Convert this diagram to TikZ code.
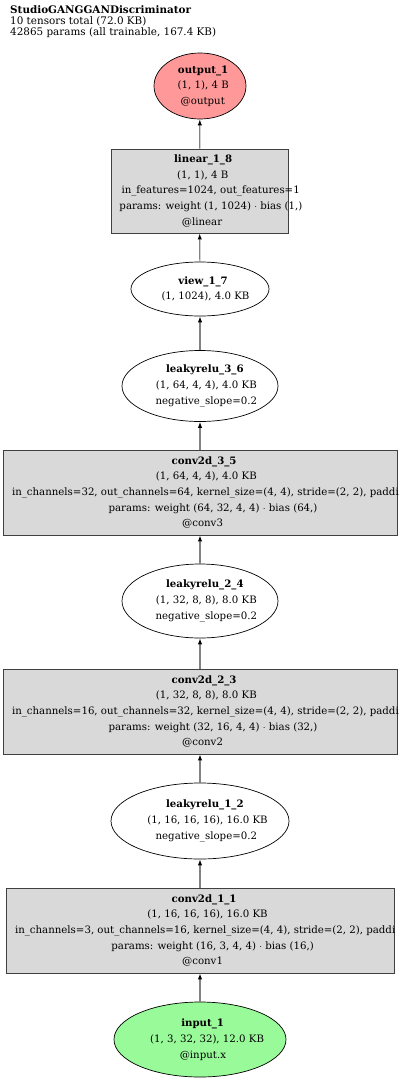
\documentclass[tikz,border=0pt]{standalone}
\usepackage{fontspec}
\setmainfont{DejaVu Serif}
\usetikzlibrary{shapes.geometric, arrows.meta, positioning}
\definecolor{outfill}{RGB}{255,153,153}
\definecolor{infill}{RGB}{153,250,153}
\definecolor{layerfill}{RGB}{217,217,217}
\definecolor{edgegray}{RGB}{130,130,130}

\tikzset{
  layerbox/.style={draw=black!75, fill=layerfill, inner sep=0pt, align=center, line width=0.8pt},
  opnode/.style={ellipse, draw=black, inner sep=0pt, align=center, line width=0.7pt},
  flow/.style={draw=edgegray, line width=1.2pt, -{Latex[length=6pt,width=4.5pt,black]}}
}
% each label line starts a little left of its centre, as the renderer did
\newlength{\gvw}
\newcommand{\gv}[1]{\settowidth{\gvw}{#1}\makebox[0pt][l]{\hspace*{-0.4375\gvw}#1}}
\newcommand{\longline}[2]{\makebox[0pt][l]{\hspace*{#1}#2}}

\begin{document}
\begin{tikzpicture}[x=1pt, y=-1pt, font=\fontsize{10.2}{15.7}\selectfont]
  \useasboundingbox (0,0) rectangle (400,1082);
  \clip (0,0) rectangle (400,1082);

  % heading
  \node[anchor=north west, align=left, inner sep=0pt, font=\fontsize{10.4}{11.4}\selectfont] (title) at (10,5)
    {\textbf{StudioGANGGANDiscriminator}\\10 tensors total (72.0 KB)\\42865 params (all trainable, 167.4 KB)};

  % nodes, top to bottom
  \node[opnode, fill=outfill, minimum width=92pt, minimum height=66pt] (out1) at (200,86)
    {\gv{\textbf{output\_1}}\\\gv{(1, 1), 4 B}\\\gv{@output}};
  \node[layerbox, minimum width=177pt, minimum height=84pt] (lin8) at (199.5,191)
    {\gv{\textbf{linear\_1\_8}}\\\gv{(1, 1), 4 B}\\\gv{in\_features=1024, out\_features=1}\\
     \gv{params: weight (1, 1024) $\cdot$ bias (1,)}\\\gv{@linear}};
  \node[opnode, minimum width=138pt, minimum height=54pt] (view7) at (200,289)
    {\gv{\textbf{view\_1\_7}}\\\gv{(1, 1024), 4.0 KB}};
  \node[opnode, minimum width=156pt, minimum height=71pt] (lrelu36) at (200,386)
    {\gv{\textbf{leakyrelu\_3\_6}}\\\gv{(1, 64, 4, 4), 4.0 KB}\\\gv{negative\_slope=0.2}};
  \node[layerbox, minimum width=394pt, minimum height=85pt] (conv35) at (200,492.5)
    {\gv{\textbf{conv2d\_3\_5}}\\\gv{(1, 64, 4, 4), 4.0 KB}\\
     \longline{-188pt}{in\_channels=32, out\_channels=64, kernel\_size=(4, 4), stride=(2, 2), paddi}\\
     \gv{params: weight (64, 32, 4, 4) $\cdot$ bias (64,)}\\\gv{@conv3}};
  \node[opnode, minimum width=156pt, minimum height=74pt] (lrelu24) at (200,601)
    {\gv{\textbf{leakyrelu\_2\_4}}\\\gv{(1, 32, 8, 8), 8.0 KB}\\\gv{negative\_slope=0.2}};
  \node[layerbox, minimum width=394pt, minimum height=85pt] (conv23) at (200,711.5)
    {\gv{\textbf{conv2d\_2\_3}}\\\gv{(1, 32, 8, 8), 8.0 KB}\\
     \longline{-188pt}{in\_channels=16, out\_channels=32, kernel\_size=(4, 4), stride=(2, 2), paddi}\\
     \gv{params: weight (32, 16, 4, 4) $\cdot$ bias (32,)}\\\gv{@conv2}};
  \node[opnode, minimum width=178pt, minimum height=76pt] (lrelu12) at (200,821)
    {\gv{\textbf{leakyrelu\_1\_2}}\\\gv{(1, 16, 16, 16), 16.0 KB}\\\gv{negative\_slope=0.2}};
  \node[layerbox, minimum width=388pt, minimum height=85pt] (conv11) at (200,930.5)
    {\gv{\textbf{conv2d\_1\_1}}\\\gv{(1, 16, 16, 16), 16.0 KB}\\
     \longline{-185pt}{in\_channels=3, out\_channels=16, kernel\_size=(4, 4), stride=(2, 2), paddi}\\
     \gv{params: weight (16, 3, 4, 4) $\cdot$ bias (16,)}\\\gv{@conv1}};
  \node[opnode, fill=infill, minimum width=172pt, minimum height=75pt] (in1) at (200,1039.5)
    {\gv{\textbf{input\_1}}\\\gv{(1, 3, 32, 32), 12.0 KB}\\\gv{@input.x}};

  % edges
  \draw[flow] (in1) -- (conv11);
  \draw[flow] (conv11) -- (lrelu12);
  \draw[flow] (lrelu12) -- (conv23);
  \draw[flow] (conv23) -- (lrelu24);
  \draw[flow] (lrelu24) -- (conv35);
  \draw[flow] (conv35) -- (lrelu36);
  \draw[flow] (lrelu36) -- (view7);
  \draw[flow] (view7) -- (lin8);
  \draw[flow] (lin8) -- (out1);
\end{tikzpicture}
\end{document}
